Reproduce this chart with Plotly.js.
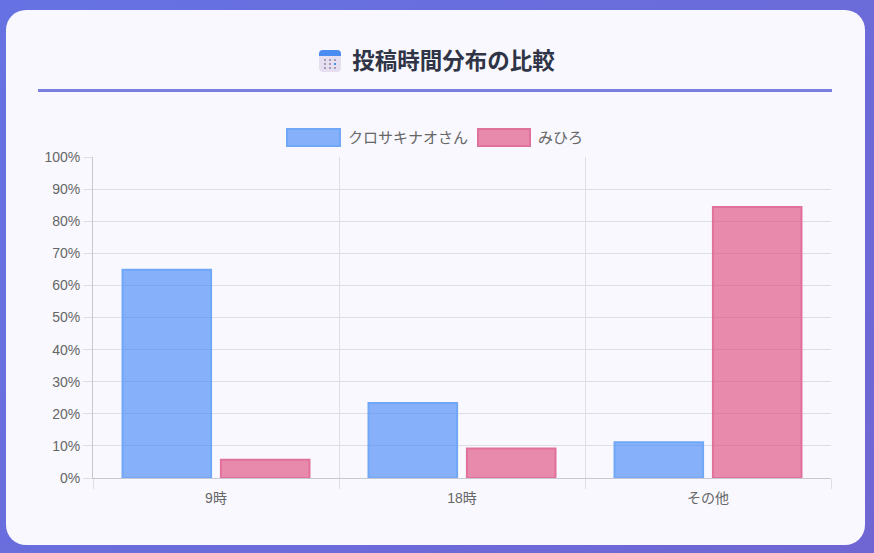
<!DOCTYPE html>
<html lang="ja">
<head>
<meta charset="utf-8">
<script src="https://cdn.plot.ly/plotly-3.0.1.min.js"></script>
<style>
    html, body { margin: 0; padding: 0; }
    body {
        width: 874px; height: 553px; overflow: hidden; position: relative;
        background: linear-gradient(135deg, #6672e3 0%, #6f66d3 100%);
        font-family: "Liberation Sans", "Noto Sans CJK JP", sans-serif;
    }
    .card {
        position: absolute; left: 6px; top: 10px; width: 859px; height: 535px;
        background: #f8f8fe; border-radius: 20px;
    }
    .titulo {
        position: absolute; left: 0; top: 42px; width: 874px; text-align: center;
        font-family: "Noto Sans CJK JP", sans-serif; font-weight: bold; font-size: 22.5px;
        color: #2f3446; line-height: 34px;
    }
    .icono {
        display: inline-block; position: relative; width: 22px; height: 22px; margin-right: 11px;
        vertical-align: -3px; border-radius: 4px; background: #e6dff0; overflow: hidden;
    }
    .icono::before {
        content: ""; position: absolute; left: 0; top: 0; width: 100%; height: 6px; background: #4b8cf0;
    }
    .icono::after {
        content: ""; position: absolute; left: 5px; top: 9px; width: 2px; height: 2px;
        background: #a79bbd;
        box-shadow: 5px 0 #a79bbd, 10px 0 #a79bbd, 0 4px #a79bbd, 5px 4px #a79bbd, 10px 4px #4b8cf0,
                    0 8px #a79bbd, 5px 8px #a79bbd, 10px 8px #a79bbd;
    }
    .linea {
        position: absolute; left: 38px; top: 89px; width: 794px; height: 3px; background: #7a80dd;
    }
    #grafica { position: absolute; left: 0; top: 100px; width: 874px; height: 420px; }
</style>
</head>
<body>
<div class="card"></div>
<div class="titulo"><span class="icono"></span>投稿時間分布の比較</div>
<div class="linea"></div>
<div id="grafica"></div>

<script>
// DATOS DE LA GRAFICA
const categorias = ['9時', '18時', 'その他'];
const nombresSeries = ['クロサキナオさん', 'みひろ'];
const valoresKuro = [64.9, 23.4, 11.1];
const valoresMihiro = [5.7, 9.2, 84.4];

/**********************************************************************************************************************************************************/
// COLORES Y GEOMETRIA DEL AREA DE DIBUJO
const colores = [
    { fill: 'rgba(59,130,246,0.6)', line: '#70a7f7' },
    { fill: 'rgba(221,65,116,0.6)', line: '#e0719b' }
];
const margen = { l: 93, r: 43, t: 57, b: 42 };
const anchoPlot = 874 - margen.l - margen.r;
const altoPlot = 420 - margen.t - margen.b;

// convierte pixeles del div a coordenadas paper
function px(x) { return (x - margen.l) / anchoPlot; }
function py(y) { return (altoPlot + margen.t - y) / altoPlot; }

/**********************************************************************************************************************************************************/
// LEYENDA ESTILO CAJA (Plotly dibuja cuadros muy pequeños)
const leyenda = [
    { x0: 287, x1: 340, texto: 346 },
    { x0: 478, x1: 530, texto: 536 }
];
const shapes = [];
const annotations = [];
leyenda.forEach((item, i) => {
    shapes.push({
        type: 'rect', xref: 'paper', yref: 'paper',
        x0: px(item.x0), x1: px(item.x1), y0: py(46), y1: py(29),
        fillcolor: colores[i].fill, line: { color: colores[i].line, width: 2 }
    });
    annotations.push({
        xref: 'paper', yref: 'paper', x: px(item.texto), y: py(37.5),
        xanchor: 'left', yanchor: 'middle', showarrow: false,
        text: nombresSeries[i], font: { size: 15, color: '#666666' }
    });
});

const trazas = [valoresKuro, valoresMihiro].map((vals, i) => ({
    type: 'bar',
    x: categorias,
    y: vals,
    name: nombresSeries[i],
    marker: { color: colores[i].fill, line: { color: colores[i].line, width: 2 } },
    hovertemplate: '%{x}: %{y}%<extra></extra>'
}));

const layout = {
    width: 874, height: 420,
    paper_bgcolor: 'rgba(0,0,0,0)',
    plot_bgcolor: 'rgba(0,0,0,0)',
    margin: margen,
    showlegend: false,
    barmode: 'group',
    bargap: 0.2,
    bargroupgap: 0.1,
    font: { family: '"Liberation Sans", "Noto Sans CJK JP", sans-serif', size: 14, color: '#666666' },
    xaxis: {
        type: 'category',
        tickson: 'boundaries',
        showgrid: true, gridcolor: '#dedee6',
        ticks: 'outside', ticklen: 10, tickcolor: '#dedee6',
        ticklabelstandoff: 7,
        showline: true, linecolor: '#c8c8d2', linewidth: 1,
        zeroline: false,
        tickfont: { size: 14, color: '#666666' }
    },
    yaxis: {
        range: [0, 100], dtick: 10, ticksuffix: '%',
        showgrid: true, gridcolor: '#dedee6',
        ticks: 'outside', ticklen: 9, tickcolor: '#dedee6',
        showline: true, linecolor: '#c8c8d2', linewidth: 1,
        zeroline: false,
        tickfont: { size: 14, color: '#666666' }
    },
    shapes: shapes,
    annotations: annotations
};

Plotly.newPlot('grafica', trazas, layout, { displayModeBar: false, responsive: false });
</script>
</body>
</html>
